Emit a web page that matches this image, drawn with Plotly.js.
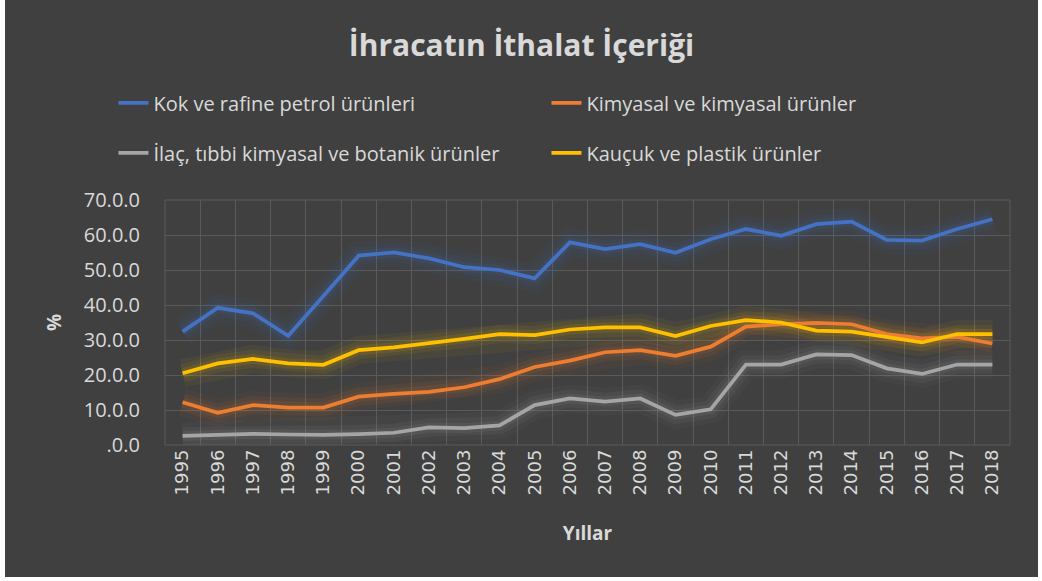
<!DOCTYPE html>
<html>
<head>
<meta charset="utf-8">
<script src="https://cdn.plot.ly/plotly-3.0.1.min.js"></script>
<style>
html,body{margin:0;padding:0;background:#ffffff;}
#chart{position:absolute;left:5px;top:0;width:1033px;height:577px;}
</style>
</head>
<body>
<div id="chart"></div>
<script>
const years = ["1995","1996","1997","1998","1999","2000","2001","2002","2003","2004","2005","2006","2007","2008","2009","2010","2011","2012","2013","2014","2015","2016","2017","2018"];
const seriesNames = ["Kok ve rafine petrol ürünleri","Kimyasal ve kimyasal ürünler","İlaç, tıbbi kimyasal ve botanik ürünler","Kauçuk ve plastik ürünler"];
const kok      = [32.4,39.2,37.6,31.2,42.6,54.1,55.0,53.3,50.8,50.0,47.6,57.9,56.0,57.4,54.9,58.8,61.7,59.8,63.1,63.8,58.6,58.4,61.7,64.5];
const kimyasal = [12.2,9.2,11.4,10.7,10.7,13.8,14.6,15.2,16.5,18.8,22.3,24.1,26.5,27.1,25.5,28.1,33.8,34.5,34.9,34.5,31.7,30.5,30.9,29.0];
const ilac     = [2.6,3.0,3.2,3.0,2.9,3.1,3.5,5.0,4.8,5.6,11.4,13.3,12.4,13.3,8.6,10.2,23.0,23.0,25.9,25.7,21.9,20.3,23.0,23.0];
const kaucuk   = [20.5,23.3,24.6,23.3,22.9,27.1,27.9,29.0,30.3,31.7,31.4,33.0,33.6,33.6,31.1,34.0,35.7,35.0,32.7,32.4,30.9,29.3,31.7,31.7];
const yTickVals = [0,10,20,30,40,50,60,70];
const yTickText = [".0.0","10.0.0","20.0.0","30.0.0","40.0.0","50.0.0","60.0.0","70.0.0"];
const colors = ["#4472C4","#ED7D31","#A5A5A5","#FFC000"];
const legendIds = ["legend","legend","legend2","legend2"];
const allSeries = [kok, kimyasal, ilac, kaucuk];

const traces = [];
// glow layers
allSeries.forEach((s, i) => {
  [[28,0.05],[18,0.07],[10,0.10]].forEach(([w,o]) => {
    traces.push({x: years, y: s, type: 'scatter', mode: 'lines', showlegend: false, hoverinfo: 'skip',
      line: {color: colors[i], width: w}, opacity: o});
  });
});
allSeries.forEach((s, i) => {
  traces.push({x: years, y: s, name: seriesNames[i], type: 'scatter', mode: 'lines', legend: legendIds[i],
    line: {color: colors[i], width: 3.75}});
});

const legendFont = {family: 'Open Sans, sans-serif', size: 20, color: '#d9d9d9'};
const layout = {
  width: 1033, height: 577,
  paper_bgcolor: '#404040', plot_bgcolor: '#404040',
  margin: {l: 160, r: 28, t: 200, b: 132},
  font: {family: 'Open Sans, sans-serif', color: '#d9d9d9'},
  title: {text: '<b>İhracatın İthalat İçeriği</b>', x: 0.5, xanchor: 'center', y: 0.922, yanchor: 'middle',
    font: {family: 'Open Sans, sans-serif', size: 30, color: '#d9d9d9'}},
  showlegend: true,
  legend: {orientation: 'h', x: -0.061, xanchor: 'left', y: 1.396, yanchor: 'middle',
    entrywidth: 388, entrywidthmode: 'pixels', font: legendFont, bgcolor: 'rgba(0,0,0,0)'},
  legend2: {orientation: 'h', x: -0.061, xanchor: 'left', y: 1.192, yanchor: 'middle',
    entrywidth: 388, entrywidthmode: 'pixels', font: legendFont, bgcolor: 'rgba(0,0,0,0)'},
  xaxis: {type: 'category', tickson: 'boundaries', showgrid: true, gridcolor: '#5a5a5a', gridwidth: 1,
    ticks: '', tickangle: -90, range: [-0.5, 23.5], showline: false, zeroline: false,
    tickfont: {family: 'DejaVu Sans, sans-serif', size: 18, color: '#d9d9d9'},
    title: {text: '<b>Yıllar</b>', font: {family: 'Open Sans, sans-serif', size: 19, color: '#d9d9d9'}, standoff: 32}},
  yaxis: {range: [0, 70], tickvals: yTickVals, ticktext: yTickText, showgrid: true, gridcolor: '#5a5a5a', gridwidth: 1,
    zeroline: false, showline: false, ticks: '', ticklabelstandoff: 24,
    tickfont: {family: 'Open Sans, sans-serif', size: 20, color: '#d9d9d9'},
    title: {text: '<b>%</b>', font: {family: 'Open Sans, sans-serif', size: 19, color: '#d9d9d9'}, standoff: 17}},
  shapes: [{type: 'rect', xref: 'paper', yref: 'paper', x0: 0, x1: 1, y0: 0, y1: 1,
    line: {color: '#5a5a5a', width: 1}, fillcolor: 'rgba(0,0,0,0)', layer: 'below'}]
};

Plotly.newPlot('chart', traces, layout, {displayModeBar: false, staticPlot: true});
</script>
</body>
</html>
